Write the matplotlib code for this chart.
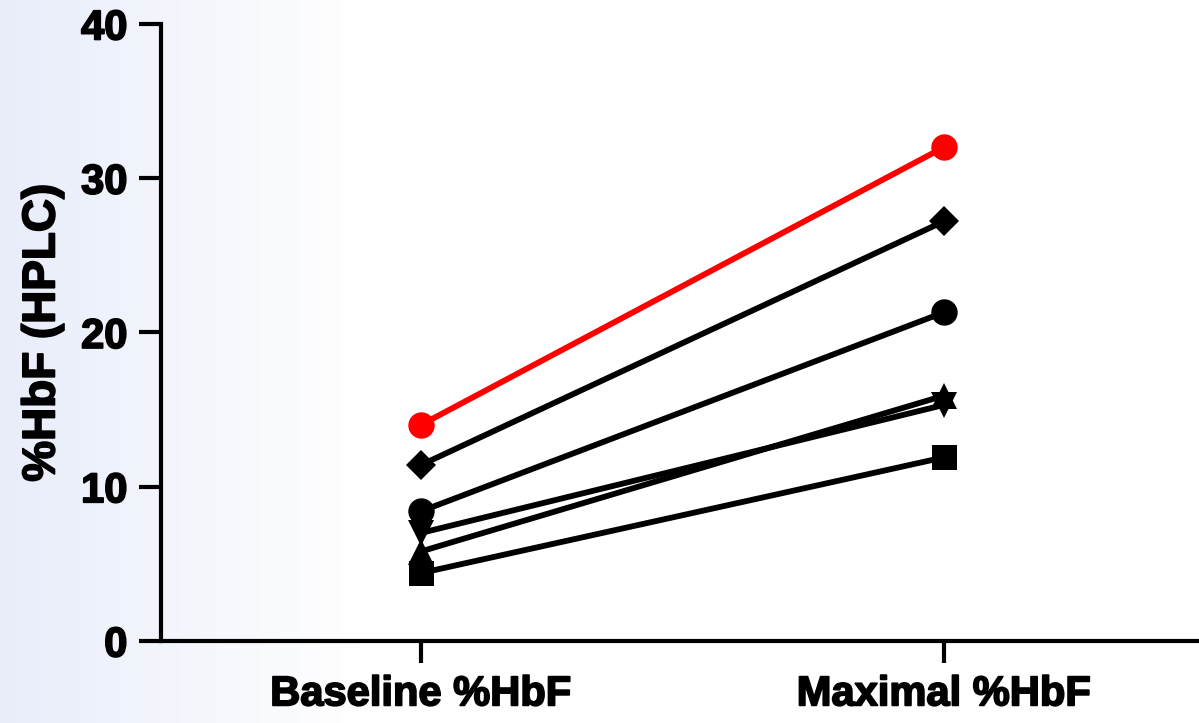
import numpy as np
import matplotlib.pyplot as plt
import matplotlib.patheffects as pe

plt.rcParams['font.family'] = ['Liberation Sans', 'DejaVu Sans']
plt.rcParams['font.weight'] = 'bold'

groups = ["Baseline %HbF", "Maximal %HbF"]

# one line per subject: baseline, maximal
red_circle = [14.0, 32.0]
diamond = [11.4, 27.2]
circle = [8.4, 21.3]
tri_down = [7.0, 15.3]
tri_up = [5.8, 15.9]
square = [4.4, 11.9]

series = [
    (square, "s", "black"),
    (tri_up, "^", "black"),
    (tri_down, "v", "black"),
    (circle, "o", "black"),
    (diamond, "D", "black"),
    (red_circle, "o", "#ff0000"),
]

fig = plt.figure(figsize=(11.99, 7.23), dpi=100)

# faint blue fade at the left edge
bg = fig.add_axes([0, 0, 1, 1], zorder=-10)
grad = np.linspace(0, 1, 400)
grad = np.clip(grad / 0.3, 0, 1)
rgb = np.zeros((1, 400, 3))
start = np.array([0.91, 0.93, 0.98])
for i, g in enumerate(grad):
    rgb[0, i] = start * (1 - g) + np.array([1, 1, 1]) * g
bg.imshow(rgb, aspect="auto", extent=[0, 1, 0, 1])
bg.axis("off")

ax = fig.add_axes([0.134, 0.1134, 0.866, 0.8535])
ax.patch.set_alpha(0)

x = np.arange(len(groups))
for vals, mk, col in series:
    ms = {"D": 15, "s": 18, "o": 19}.get(mk, 19)
    ax.plot(x, vals, color=col, lw=4.2, marker=mk, markersize=ms,
            markeredgewidth=0, clip_on=False)

ax.set_xlim(-0.497, 1.488)
ax.set_ylim(0, 40)
ax.set_yticks([0, 10, 20, 30, 40])
ax.set_xticks(x)
ax.set_xticklabels(groups)
ax.set_ylabel("%HbF (HPLC)", fontsize=33, fontweight="bold", labelpad=12)

for s in ["top", "right"]:
    ax.spines[s].set_visible(False)
for s in ["left", "bottom"]:
    ax.spines[s].set_linewidth(3)
ax.tick_params(axis="both", width=3, length=16, labelsize=30, pad=8)

# heavier glyphs, like the original
heavy = [pe.withStroke(linewidth=1.3, foreground="black")]
for lab in ax.get_xticklabels() + ax.get_yticklabels():
    lab.set_fontweight("bold")
    lab.set_path_effects(heavy)
ax.yaxis.label.set_path_effects(heavy)

fig.savefig("out.png", dpi=100)
